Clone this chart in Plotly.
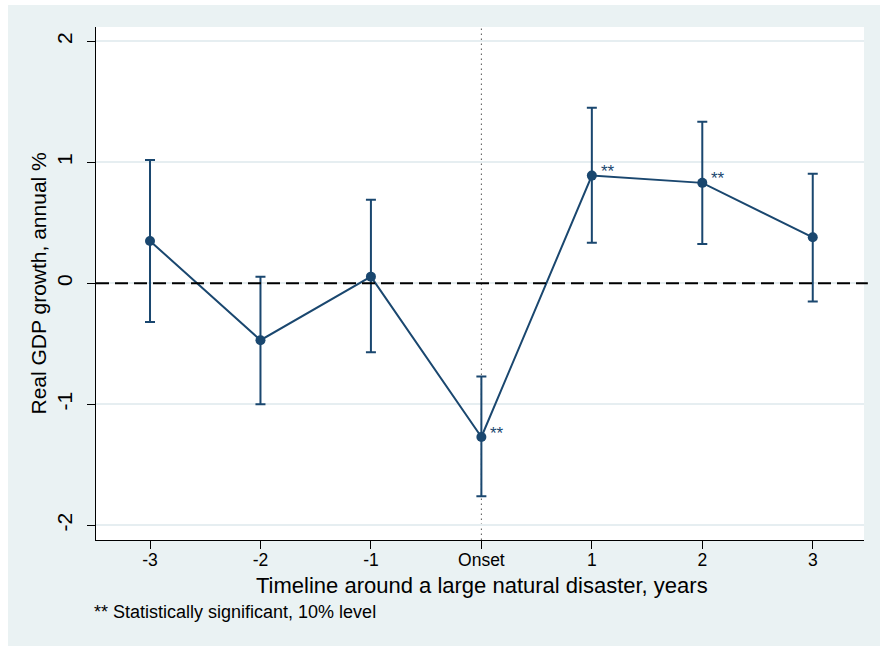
import plotly.graph_objects as go

# ---- data ----
periods = [-3, -2, -1, 0, 1, 2, 3]
tick_labels = ["-3", "-2", "-1", "Onset", "1", "2", "3"]
estimate = [0.35, -0.47, 0.055, -1.27, 0.89, 0.83, 0.38]
upper = [1.02, 0.055, 0.69, -0.77, 1.45, 1.335, 0.905]
lower = [-0.32, -1.0, -0.57, -1.76, 0.335, 0.325, -0.15]
stars = ["", "", "", "**", "**", "**", ""]
y_ticks = [-2, -1, 0, 1, 2]

NAVY = "#1A476F"
PANEL = "#EAF2F3"
FONT = "Arial, Liberation Sans, sans-serif"

err_plus = [u - e for u, e in zip(upper, estimate)]
err_minus = [e - l for e, l in zip(estimate, lower)]

fig = go.Figure()
fig.add_trace(go.Scatter(
    x=periods, y=estimate, mode="lines+markers",
    line=dict(color=NAVY, width=2),
    marker=dict(color=NAVY, size=10),
    error_y=dict(type="data", symmetric=False, array=err_plus, arrayminus=err_minus,
                 color=NAVY, thickness=2, width=5),
    showlegend=False, hoverinfo="skip",
))

annotations = []
for p, e, s in zip(periods, estimate, stars):
    if s:
        annotations.append(dict(x=p, y=e, xref="x", yref="y", text=s, showarrow=False,
                                xanchor="left", yanchor="middle", xshift=7, yshift=4,
                                font=dict(family=FONT, size=17, color=NAVY)))

annotations += [
    dict(text="Real GDP growth, annual %", xref="paper", yref="paper", x=-0.0755, y=0.5,
         textangle=-90, showarrow=False, xanchor="center", yanchor="middle",
         font=dict(family=FONT, size=21, color="#000")),
    dict(text="Timeline around a large natural disaster, years", xref="paper", yref="paper",
         x=0.503, y=-0.0887, showarrow=False, xanchor="center", yanchor="middle",
         font=dict(family=FONT, size=22, color="#000")),
    dict(text="** Statistically significant, 10% level", xref="paper", yref="paper",
         x=-0.005, y=-0.1404, showarrow=False, xanchor="left", yanchor="middle",
         font=dict(family=FONT, size=18, color="#000")),
]

shapes = [
    # light outer panel
    dict(type="rect", xref="paper", yref="paper", x0=-0.1146, x1=1.03, y0=-0.207, y1=1.043,
         fillcolor=PANEL, line=dict(width=0), layer="below"),
    # white plot region
    dict(type="rect", xref="paper", yref="paper", x0=0, x1=1, y0=0, y1=1,
         fillcolor="white", line=dict(width=0), layer="below"),
    # zero reference line
    dict(type="line", xref="paper", yref="y", x0=0, x1=1.005, y0=0, y1=0,
         line=dict(color="#000", width=2, dash="13px,6px"), layer="above"),
    # onset vertical dotted line
    dict(type="line", xref="x", yref="paper", x0=0, x1=0, y0=0, y1=1,
         line=dict(color="#555", width=1, dash="1.5px,3.5px"), layer="below"),
]

fig.update_layout(
    width=880, height=646,
    margin=dict(l=96, r=16, t=27, b=106),
    paper_bgcolor="white", plot_bgcolor="rgba(0,0,0,0)",
    font=dict(family=FONT, color="#000"),
    annotations=annotations, shapes=shapes,
)
fig.update_xaxes(
    range=[-3.489, 3.464], tickvals=periods, ticktext=tick_labels,
    showgrid=False, zeroline=False, showline=True, linecolor="#000", linewidth=1.3,
    ticks="outside", ticklen=8, tickwidth=1.3, tickcolor="#000", ticklabelstandoff=-4,
    tickfont=dict(family=FONT, size=17.5, color="#000"),
)
fig.update_yaxes(
    range=[-2.121, 2.118], tickvals=y_ticks, ticktext=[str(v) for v in y_ticks],
    showgrid=True, gridcolor="#E6EEF1", gridwidth=1.5, zeroline=False,
    showline=True, linecolor="#000", linewidth=1.3,
    ticks="outside", ticklen=8, tickwidth=1.3, tickcolor="#000", tickangle=-90,
    ticklabelstandoff=6,
    tickfont=dict(family=FONT, size=21, color="#000"),
)

fig.write_html("out.html")
